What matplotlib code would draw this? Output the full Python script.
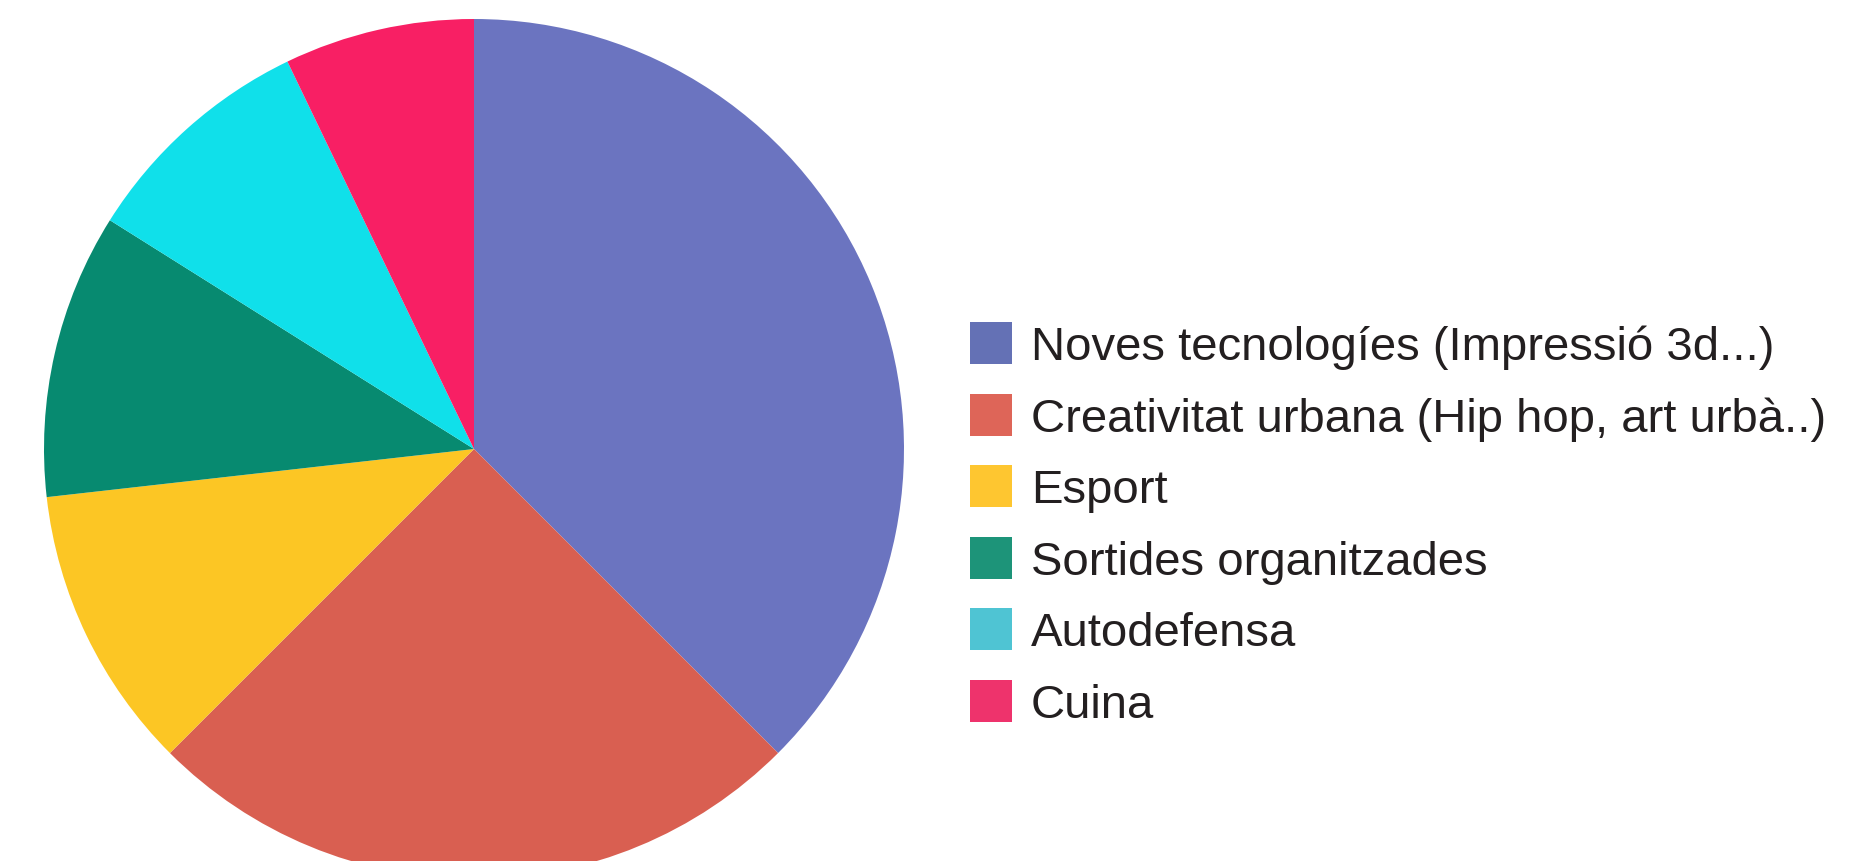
import matplotlib.pyplot as plt
from matplotlib.patches import Rectangle

plt.rcParams['font.family'] = ['Liberation Sans', 'DejaVu Sans']

# Data
labels = ['Noves tecnologíes (Impressió 3d...)',
          'Creativitat urbana (Hip hop, art urbà..)',
          'Esport',
          'Sortides organitzades',
          'Autodefensa',
          'Cuina']
counts = [21, 14, 6, 6, 5, 4]
pie_colors = ['#6b74c0', '#d95f51', '#fcc624', '#078a70', '#10e0ea', '#f81f64']
legend_colors = ['#6471b5', '#de6558', '#fec630', '#1d9479', '#4fc4d3', '#ee336c']

W, H = 1855, 862

fig = plt.figure(figsize=(W / 100, H / 100), dpi=100)
ax = fig.add_axes([0, 0, 1, 1])

ax.pie(counts, colors=pie_colors, startangle=90, counterclock=False,
       center=(474, H - 450), radius=430,
       wedgeprops=dict(linewidth=0))

ax.set_xlim(0, W)
ax.set_ylim(0, H)
ax.set_aspect('equal')
ax.axis('off')

# legend drawn by hand (pixel layout)
row_h = 71.6
for i, (lab, col) in enumerate(zip(labels, legend_colors)):
    top = 323 + i * row_h
    ax.add_patch(Rectangle((970, H - top - 42), 42, 42, color=col, lw=0))
    ax.text(1031, H - (360 + i * row_h), lab, fontsize=34, color='#231f20',
            va='baseline', ha='left')

fig.savefig('out.png', dpi=100, facecolor='white')
